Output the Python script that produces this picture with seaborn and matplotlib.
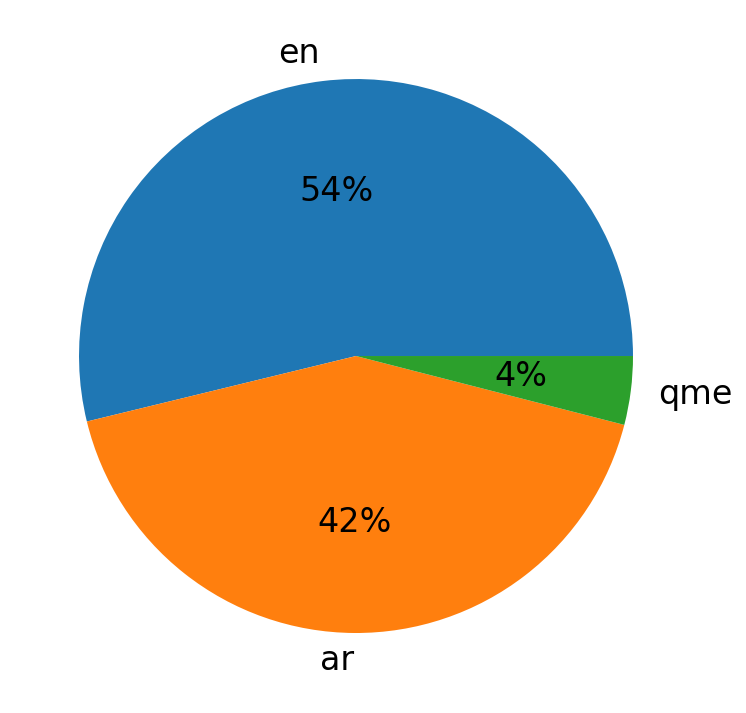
'''pie chart of languages'''
import matplotlib
matplotlib.use('Agg')
import matplotlib.pyplot as plt
import seaborn as sns

labels = ['en', 'ar', 'qme']
shares = [53.8, 42.2, 4.0]


def main():
    '''
    main
    '''
    colors = sns.color_palette('tab10', 3)
    fig = plt.figure(figsize=(7.46, 7.13), dpi=100)
    ax = fig.add_axes([0.01307, 0.01508, 0.9283, 0.9712])
    ax.pie(shares, labels=labels, colors=colors, autopct='%1.0f%%',
           textprops={'fontsize': 24})
    fig.savefig('out.png', dpi=100)


if __name__ == '__main__':
    main()
